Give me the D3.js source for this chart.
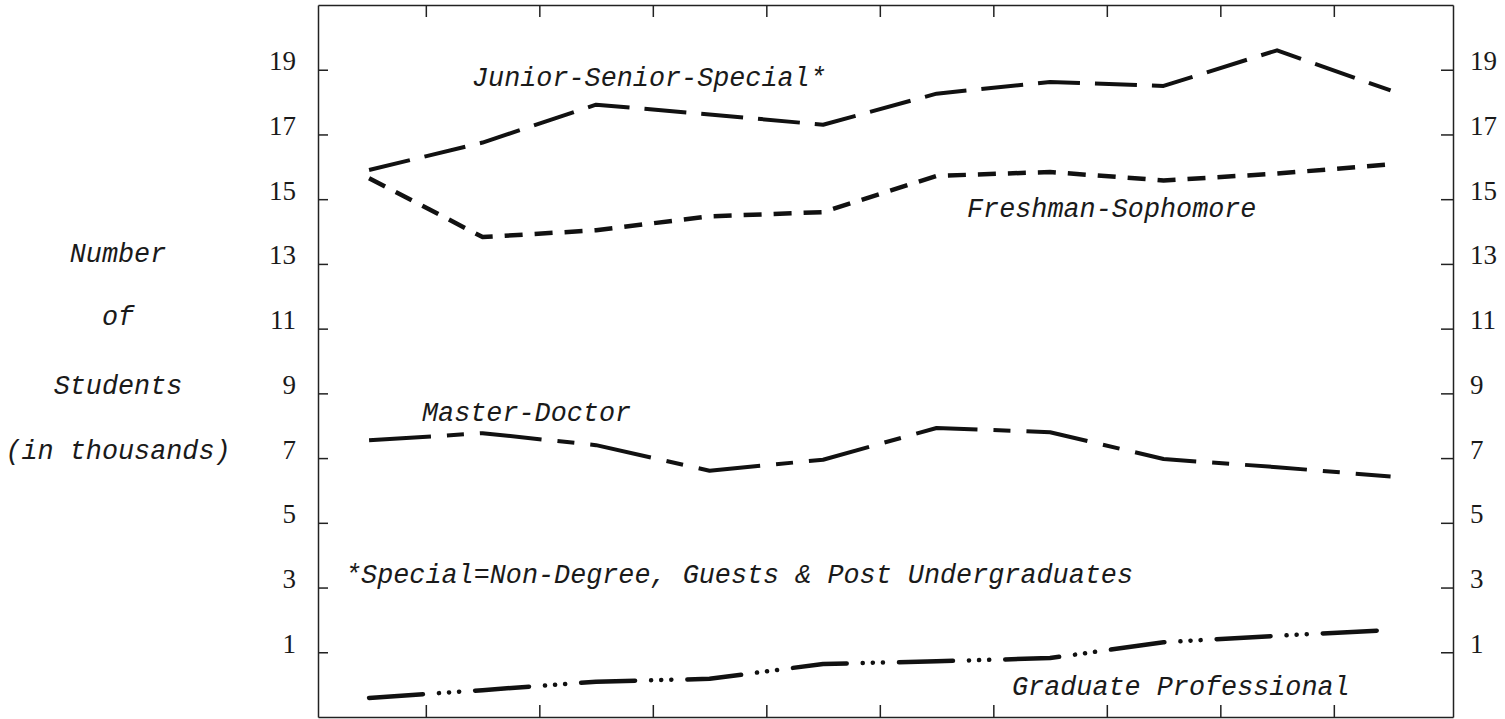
<!DOCTYPE html>
<html>
<head>
<meta charset="utf-8">
<script src="https://cdn.jsdelivr.net/npm/d3@7"></script>
<style>
  body { margin: 0; background: #ffffff; }
  .typed { font-family: "Liberation Mono", "DejaVu Sans Mono", monospace; font-style: italic; fill: #1a1a1a; }
  .num { font-family: "Liberation Serif", "DejaVu Serif", serif; fill: #1a1a1a; }
</style>
</head>
<body>
<div id="chart"></div>
<script>

// Enrollment by level, one value per period (in thousands) :
var periods = [0, 1, 2, 3, 4, 5, 6, 7, 8, 9];

var juniorSeniorSpecial  = [15.90, 16.75, 17.92, 17.62, 17.30, 18.26, 18.62, 18.50, 19.60, 18.36];
var freshmanSophomore    = [15.65, 13.83, 14.04, 14.47, 14.60, 15.72, 15.84, 15.58, 15.79, 16.08];
var masterDoctor         = [7.55, 7.77, 7.40, 6.61, 6.95, 7.93, 7.80, 6.97, 6.72, 6.43];
var graduateProfessional = [-0.41, -0.17, 0.09, 0.18, 0.64, 0.72, 0.82, 1.31, 1.51, 1.69];

// Tick values of the two vertical axes :
var yTicks = [1, 3, 5, 7, 9, 11, 13, 15, 17, 19];

// Period boundaries carry the ticks on the top and bottom of the frame :
var xTicks = [0.5, 1.5, 2.5, 3.5, 4.5, 5.5, 6.5, 7.5, 8.5];

var width = 1505, height = 719;
var frame = { left: 318, right: 1453, top: 5, bottom: 717 };

var svg = d3.select("#chart").append("svg")
    .attr("width", width)
    .attr("height", height);

var x = d3.scaleLinear().domain([-0.45, 9.55]).range([frame.left, frame.right]);
var y = d3.scaleLinear().domain([-1, 21]).range([frame.bottom, frame.top]);

// Frame with inward ticks on all four sides :
function styleAxis(g) {
  g.select(".domain").attr("stroke", "#222").attr("stroke-width", 1.5);
  g.selectAll(".tick line").attr("stroke", "#222").attr("stroke-width", 1.5);
}

function styleNumbers(g) {
  g.selectAll(".tick text").attr("class", "num").attr("dy", "0").style("font-size", "27px");
}

svg.append("g")
   .attr("transform", "translate(" + frame.left + ",0)")
   .call(d3.axisLeft(y).tickValues(yTicks).tickSizeInner(-10).tickSizeOuter(0).tickPadding(22))
   .call(styleAxis)
   .call(styleNumbers);

svg.append("g")
   .attr("transform", "translate(" + frame.right + ",0)")
   .call(d3.axisRight(y).tickValues(yTicks).tickSizeInner(-12).tickSizeOuter(0).tickPadding(17))
   .call(styleAxis)
   .call(styleNumbers);

svg.append("g")
   .attr("transform", "translate(0," + frame.top + ")")
   .call(d3.axisTop(x).tickValues(xTicks).tickSizeInner(-12).tickSizeOuter(0).tickFormat(""))
   .call(styleAxis);

svg.append("g")
   .attr("transform", "translate(0," + frame.bottom + ")")
   .call(d3.axisBottom(x).tickValues(xTicks).tickSizeInner(-12).tickSizeOuter(0).tickFormat(""))
   .call(styleAxis);

// The four series, each with its own dash pattern :
var series = [
  { values: juniorSeniorSpecial,  dash: "42,15",                      width: 4,   cap: "butt" },
  { values: freshmanSophomore,    dash: "18,12",                      width: 4.5, cap: "butt" },
  { values: masterDoctor,         dash: "62,16,17,16",                width: 4,   cap: "butt" },
  { values: graduateProfessional, dash: "54,16,0.1,10,0.1,10,0.1,16", width: 4.5, cap: "round" }
];

var line = d3.line()
    .x(function(d, i) { return x(periods[i]); })
    .y(function(d) { return y(d); });

svg.selectAll(".series")
   .data(series)
   .enter().append("path")
   .attr("class", "series")
   .attr("d", function(s) { return line(s.values); })
   .attr("fill", "none")
   .attr("stroke", "#111")
   .attr("stroke-width", function(s) { return s.width; })
   .attr("stroke-dasharray", function(s) { return s.dash; })
   .attr("stroke-linecap", function(s) { return s.cap; })
   .attr("stroke-linejoin", "round");

// Typed labels on the plot :
function typed(txt, px, py, anchor) {
  svg.append("text")
     .attr("class", "typed")
     .attr("x", px)
     .attr("y", py)
     .attr("text-anchor", anchor || "start")
     .style("font-size", "26.8px")
     .text(txt);
}

typed("Junior-Senior-Special*", 472, 86);
typed("Freshman-Sophomore", 967, 217);
typed("Master-Doctor", 422, 421);
typed("*Special=Non-Degree, Guests & Post Undergraduates", 345, 583);
typed("Graduate Professional", 1012, 695);

// Axis title, centred in four lines :
typed("Number", 118, 262, "middle");
typed("of", 118, 325, "middle");
typed("Students", 118, 394, "middle");
typed("(in thousands)", 118, 459, "middle");

</script>
</body>
</html>
